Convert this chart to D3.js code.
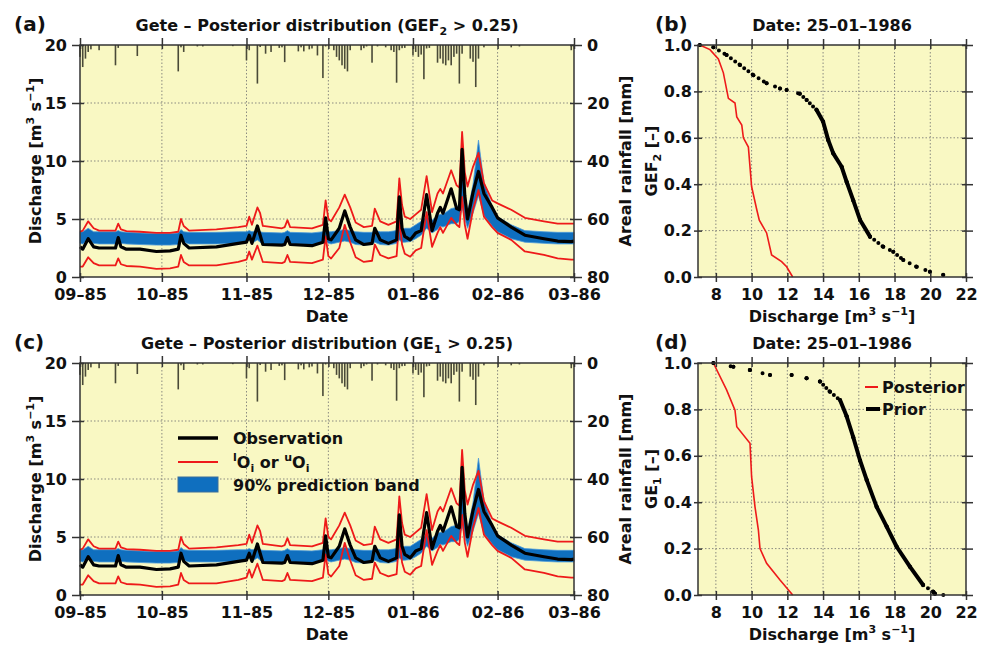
<!DOCTYPE html>
<html>
<head>
<meta charset="utf-8">
<script src="https://cdn.jsdelivr.net/npm/d3@7"></script>
<style>
body { margin: 0; background: #fff; }
text { font-family: "DejaVu Sans", sans-serif; font-weight: bold; fill: #111; }
</style>
</head>
<body>
<svg id="chart" width="985" height="647"></svg>
<script>
//////////////////////////////////////////////
// Data //////////////////////////////////////
//////////////////////////////////////////////
// discharge series, read at break points (m3/s)
var obsDates = ["1985-09-01","1985-09-02","1985-09-04","1985-09-06","1985-09-08","1985-09-14","1985-09-15","1985-09-16",
  "1985-09-18","1985-09-23","1985-09-29","1985-10-04","1985-10-07","1985-10-08","1985-10-09","1985-10-11",
  "1985-10-21","1985-10-29","1985-11-01","1985-11-02","1985-11-03","1985-11-05","1985-11-06","1985-11-07",
  "1985-11-14","1985-11-15","1985-11-16","1985-11-17","1985-11-25","1985-11-29","1985-11-30","1985-12-01",
  "1985-12-02","1985-12-05","1985-12-07","1985-12-09","1985-12-11","1985-12-14","1985-12-17","1985-12-18",
  "1985-12-20","1985-12-23","1985-12-26","1985-12-27","1985-12-28","1985-12-29","1985-12-31","1986-01-02",
  "1986-01-04","1986-01-06","1986-01-08","1986-01-10","1986-01-11","1986-01-12","1986-01-15","1986-01-17",
  "1986-01-18","1986-01-19","1986-01-20","1986-01-21","1986-01-23","1986-01-25","1986-01-27","1986-01-30",
  "1986-02-01","1986-02-06","1986-02-11","1986-02-18","1986-02-23","1986-02-28","1986-03-01"];
var observation = [2.6,2.4,3.3,2.6,2.5,2.5,3.4,2.6, 2.4,2.4,2.2,2.25,2.4,3.6,2.9,2.5,
  2.6,2.9,3.0,3.6,2.9,4.4,3.6,2.8, 2.75,2.8,3.4,2.8,2.7,3.0,5.1,3.3,
  3.2,4.2,5.7,4.3,3.2,2.8,2.9,4.2, 3.2,2.9,3.2,6.9,4.2,3.5,3.2,3.8,
  4.0,7.1,4.0,5.5,6.0,5.5,7.6,5.9, 5.8,11.0,7.0,5.0,7.3,9.1,7.2,6.0,
  5.1,4.3,3.6,3.3,3.1,3.05,3.1];
var bandLow = [2.9,2.85,3.2,2.9,2.85,2.85,3.1,2.9, 2.85,2.8,2.75,2.75,2.8,3.3,3.0,2.85,
  2.85,2.9,3.0,3.2,2.9,3.2,3.0,2.8, 2.8,2.85,3.1,2.85,2.8,2.9,3.1,2.9,
  2.85,3.0,3.1,3.0,2.8,2.75,2.8,3.0, 2.8,2.75,2.9,3.2,3.0,3.0,3.05,3.3,
  3.6,4.2,3.8,4.1,4.4,4.3,4.6,4.6, 4.8,6.0,5.0,4.2,5.5,7.0,5.3,4.4,
  3.9,3.3,3.0,2.9,2.85,2.85,2.85];
var bandHigh = [3.9,3.9,4.2,3.9,3.9,3.9,4.0,3.9, 3.85,3.8,3.75,3.75,3.8,4.1,3.9,3.85,
  3.85,3.9,3.9,4.0,3.9,4.0,3.9,3.85, 3.8,3.85,4.0,3.85,3.8,3.9,4.0,3.9,
  3.9,4.0,4.1,4.0,3.9,3.85,3.85,4.0, 3.9,3.9,4.0,4.3,4.1,4.2,4.2,4.5,
  4.8,5.2,4.9,5.3,5.4,5.4,5.9,6.0, 6.3,10.8,7.0,5.6,8.0,11.8,8.2,6.1,
  5.2,4.5,4.0,3.9,3.85,3.85,3.85];
var lowerO = [0.9,0.9,1.7,1.2,1.0,1.0,1.6,1.1, 0.95,0.9,0.7,0.75,0.9,1.9,1.3,1.0,
  1.0,1.3,1.5,2.2,1.5,2.7,2.0,1.3, 1.2,1.3,1.9,1.3,1.2,1.5,3.5,1.8,
  1.6,2.5,4.5,3.0,1.7,1.3,1.4,2.8, 1.9,1.6,1.8,5.0,2.8,2.0,1.75,2.3,
  2.5,5.6,2.6,3.8,4.3,3.8,5.1,4.5, 4.3,6.9,4.5,3.3,5.8,7.5,5.2,4.3,
  3.8,3.2,2.2,1.9,1.6,1.5,1.5];
var upperO = [3.9,4.0,4.8,4.2,4.0,4.0,4.6,4.1, 3.95,3.9,3.8,3.8,3.9,5.0,4.4,4.0,
  4.1,4.3,4.4,5.2,4.5,6.0,5.5,4.4, 4.2,4.3,4.9,4.3,4.2,4.5,6.6,5.0,
  4.8,6.0,7.1,6.0,4.7,4.3,4.4,5.9, 4.8,4.5,4.8,8.5,6.2,5.2,5.0,5.4,
  5.8,8.7,5.6,7.2,7.6,7.2,9.2,7.9, 7.7,12.5,9.0,7.8,9.5,10.7,8.1,6.6,
  6.35,5.8,5.1,4.8,4.6,4.6,4.6];

// daily areal rainfall (mm), only days with rain
var rainDates = ["1985-09-01","1985-09-02","1985-09-03","1985-09-04","1985-09-05","1985-09-08","1985-09-14","1985-09-15",
  "1985-09-22","1985-10-07","1985-10-08","1985-10-09","1985-10-14","1985-10-16","1985-10-27","1985-11-01",
  "1985-11-02","1985-11-05","1985-11-06","1985-11-08","1985-11-10","1985-11-13","1985-11-14","1985-11-15",
  "1985-11-20","1985-11-21","1985-11-22","1985-11-24","1985-11-25","1985-11-27","1985-11-29","1985-11-30",
  "1985-12-03","1985-12-04","1985-12-05","1985-12-06","1985-12-07","1985-12-08","1985-12-09","1985-12-13",
  "1985-12-14","1985-12-15","1985-12-17","1985-12-19","1985-12-22","1985-12-24","1985-12-25","1985-12-26",
  "1985-12-27","1985-12-28","1985-12-29","1986-01-01","1986-01-02","1986-01-03","1986-01-04","1986-01-05",
  "1986-01-06","1986-01-07","1986-01-10","1986-01-11","1986-01-12","1986-01-13","1986-01-14","1986-01-15",
  "1986-01-16","1986-01-17","1986-01-18","1986-01-19","1986-01-22","1986-01-23","1986-01-24","1986-01-25",
  "1986-01-27","1986-02-06","1986-02-09","1986-02-28"];
var rainMm = [4.1,7.6,4.7,2.4,1.5,1.8,7.0,1.0,
  3.8,9.1,0.8,2.4,0.5,0.5,0.4,5.3,
  1.8,13.3,0.7,3.0,2.4,1.0,0.8,5.9,
  2.2,0.8,2.2,1.5,1.2,3.6,11.4,0.5,
  1.8,4.1,5.3,7.0,8.2,9.1,1.8,1.8,
  1.1,0.5,6.1,0.5,0.8,1.8,2.4,13.0,
  1.8,1.1,1.0,3.6,2.4,4.1,3.3,11.8,
  1.2,1.0,6.1,4.7,6.4,7.0,5.3,7.0,
  4.1,3.0,13.3,3.0,4.7,5.8,14.5,4.7,
  0.8,0.8,0.5,1.8];

// distributions on 25-01-1986 (discharge, GEF2)
var postB_q = [7.1,7.67,8.14,8.42,8.7,9.07,9.17,9.45,9.54,9.82,10.0,10.29,10.43,10.84,11.12,11.68,11.96,12.3];
var postB_p = [1.0,0.98,0.94,0.88,0.77,0.75,0.69,0.655,0.6,0.56,0.39,0.29,0.245,0.19,0.095,0.066,0.044,0.0];
var priorB_q = [7.1,7.86,8.6,9.35,10.1,10.84,11.59,11.96,12.7,13.08,13.64,14.0,14.29,14.57,15.04,15.32,15.69,16.07,16.63,17.37,17.93,18.49,19.24,19.98,20.73];
var priorB_p = [1.0,0.99,0.957,0.914,0.87,0.835,0.813,0.806,0.79,0.763,0.72,0.67,0.59,0.533,0.475,0.41,0.33,0.246,0.174,0.13,0.109,0.073,0.044,0.023,0.009];

// distributions on 25-01-1986 (discharge, GE1)
var postD_q = [7.86,8.6,9.07,9.17,9.91,10.0,10.19,10.38,10.47,10.84,11.59,12.3];
var postD_p = [1.0,0.884,0.797,0.725,0.654,0.51,0.38,0.28,0.2,0.137,0.065,0.0];
var priorD_q = [7.86,8.98,9.91,11.03,12.24,13.08,13.83,14.39,14.95,15.32,15.69,16.07,16.44,17.0,17.56,18.12,18.86,19.6,20.17,20.26,20.73];
var priorD_p = [1.0,0.984,0.97,0.948,0.948,0.934,0.92,0.876,0.84,0.77,0.68,0.58,0.496,0.38,0.295,0.208,0.122,0.043,0.014,0.005,0.0];

var dischargeTicks = [0, 5, 10, 15, 20];
var rainTicks = [0, 20, 40, 60, 80];
var qTicks = [8, 10, 12, 14, 16, 18, 20, 22];
var pTicks = [0, 0.2, 0.4, 0.6, 0.8, 1.0];

//////////////////////////////////////////////
// Chart Config /////////////////////////////
//////////////////////////////////////////////
var svg = d3.select("#chart");
var parseDate = d3.timeParse("%Y-%m-%d");
var bg = "#f9f8c3";
var red = "#ee1a1a";
var blue = "#0f6fbf";
var frameColor = "#333";

var series = obsDates.map(function(s, i) {
    return {date: parseDate(s), obs: observation[i], lo: bandLow[i], hi: bandHigh[i], rlo: lowerO[i], rhi: upperO[i]};
});
var rain = rainDates.map(function(s, i) { return {date: parseDate(s), mm: rainMm[i]}; });

// text with super/subscripts: parts = [[string, "" | "sup" | "sub"]]
function rich(sel, parts) {
    var shift = 0;
    parts.forEach(function(p) {
        var target = p[1] === "sup" ? -7 : (p[1] === "sub" ? 4 : 0);
        var t = sel.append("tspan").attr("dy", target - shift).text(p[0]);
        if (p[1]) t.attr("font-size", 11);
        shift = target;
    });
    return sel;
}

var dischargeLabel = [["Discharge [m", ""], ["3", "sup"], [" s", ""], ["\u22121", "sup"], ["]", ""]];

function styleAxis(a, inner, dir) {
    a.attr("font-size", 16).attr("font-family", null);
    a.select(".domain").remove();
    a.selectAll(".tick line").attr("stroke", frameColor).attr("stroke-width", 1.5)
        .attr(dir, inner);
}

function grid(g, xs, ys, x0, x1, y0, y1) {
    xs.forEach(function(v) {
        g.append("line").attr("x1", v).attr("x2", v).attr("y1", y0).attr("y2", y1)
            .attr("stroke", "#8a8a80").attr("stroke-width", 1).attr("stroke-dasharray", "1.5,2");
    });
    ys.forEach(function(v) {
        g.append("line").attr("x1", x0).attr("x2", x1).attr("y1", v).attr("y2", v)
            .attr("stroke", "#8a8a80").attr("stroke-width", 1).attr("stroke-dasharray", "1.5,2");
    });
}

//////////////////////////////////////////////
// Time series panels ////////////////////////
//////////////////////////////////////////////
function seriesPanel(top, letter, crit, critSub, legend) {
    var left = 80, right = 574, bottom = top + 232;
    var x = d3.scaleTime().domain([parseDate("1985-09-01"), parseDate("1986-03-01")]).range([left, right]);
    var y = d3.scaleLinear().domain([0, 20]).range([bottom, top]);
    var yr = d3.scaleLinear().domain([0, 80]).range([top, bottom]);
    var months = x.ticks(d3.timeMonth.every(1));
    var g = svg.append("g");

    g.append("rect").attr("x", left).attr("y", top).attr("width", right - left).attr("height", bottom - top).attr("fill", bg);
    grid(g, months.slice(1, -1).map(x), [5, 10, 15].map(y), left, right, top, bottom);

    var band = d3.area().x(function(d) { return x(d.date); })
        .y0(function(d) { return y(d.lo); }).y1(function(d) { return y(d.hi); });
    g.append("path").datum(series).attr("d", band)
        .attr("fill", blue).attr("stroke", "#4e9bd8").attr("stroke-width", 0.8);

    ["rlo", "rhi"].forEach(function(k) {
        g.append("path").datum(series)
            .attr("d", d3.line().x(function(d) { return x(d.date); }).y(function(d) { return y(d[k]); }))
            .attr("fill", "none").attr("stroke", red).attr("stroke-width", 1.8).attr("stroke-linejoin", "round");
    });
    g.append("path").datum(series)
        .attr("d", d3.line().x(function(d) { return x(d.date); }).y(function(d) { return y(d.obs); }))
        .attr("fill", "none").attr("stroke", "#000").attr("stroke-width", 3.2).attr("stroke-linejoin", "round");

    g.selectAll(".rain").data(rain).enter().append("rect")
        .attr("x", function(d) { return x(d.date) - 0.8; })
        .attr("y", top)
        .attr("width", 1.6)
        .attr("height", function(d) { return yr(d.mm) - top; })
        .attr("fill", "#4a4a38");

    g.append("rect").attr("x", left).attr("y", top).attr("width", right - left).attr("height", bottom - top)
        .attr("fill", "none").attr("stroke", frameColor).attr("stroke-width", 1.5);

    var fmt = d3.timeFormat("%m\u2013%y");
    styleAxis(g.append("g").attr("transform", "translate(0," + bottom + ")")
        .call(d3.axisBottom(x).tickValues(months).tickFormat(fmt).tickSize(5).tickPadding(7)), -4, "y1");
    styleAxis(g.append("g").attr("transform", "translate(0," + top + ")")
        .call(d3.axisTop(x).tickValues(months).tickFormat("").tickSize(7)), 4, "y1");
    styleAxis(g.append("g").attr("transform", "translate(" + left + ",0)")
        .call(d3.axisLeft(y).tickValues(dischargeTicks).tickSize(8).tickPadding(5)), 4, "x1");
    styleAxis(g.append("g").attr("transform", "translate(" + right + ",0)")
        .call(d3.axisRight(yr).tickValues(rainTicks).tickSize(8).tickPadding(5)), -4, "x1");

    g.append("text").attr("x", 14).attr("y", top - 14).attr("font-size", 20).text(letter);
    rich(g.append("text").attr("x", (left + right) / 2).attr("y", top - 14).attr("font-size", 16).attr("text-anchor", "middle"),
        [["Gete \u2013 Posterior distribution (" + crit, ""], [critSub, "sub"], [" > 0.25)", ""]]);
    g.append("text").attr("x", (left + right) / 2).attr("y", bottom + 45).attr("font-size", 16).attr("text-anchor", "middle").text("Date");
    rich(g.append("text").attr("transform", "translate(41," + (top + bottom) / 2 + ") rotate(-90)")
        .attr("font-size", 16).attr("text-anchor", "middle"), dischargeLabel);
    g.append("text").attr("transform", "translate(631," + (top + bottom) / 2 + ") rotate(-90)")
        .attr("font-size", 16).attr("text-anchor", "middle").text("Areal rainfall [mm]");

    if (legend) {
        var lg = g.append("g").attr("font-size", 16);
        lg.append("line").attr("x1", 178).attr("x2", 218).attr("y1", top + 75).attr("y2", top + 75)
            .attr("stroke", "#000").attr("stroke-width", 3.5);
        lg.append("text").attr("x", 233).attr("y", top + 81).attr("font-size", 16).text("Observation");
        lg.append("line").attr("x1", 178).attr("x2", 218).attr("y1", top + 99).attr("y2", top + 99)
            .attr("stroke", red).attr("stroke-width", 2);
        rich(lg.append("text").attr("x", 233).attr("y", top + 105).attr("font-size", 16),
            [["l", "sup"], ["O", ""], ["i", "sub"], [" or ", ""], ["u", "sup"], ["O", ""], ["i", "sub"]]);
        lg.append("rect").attr("x", 178).attr("y", top + 114).attr("width", 40).attr("height", 15)
            .attr("fill", blue).attr("stroke", "#3d6e9a").attr("stroke-width", 1);
        lg.append("text").attr("x", 233).attr("y", top + 128).attr("font-size", 16).text("90% prediction band");
    }
}

//////////////////////////////////////////////
// Distribution panels ///////////////////////
//////////////////////////////////////////////
function drawPrior(g, x, y, qs, ps) {
    var pts = qs.map(function(q, i) { return [x(q), y(ps[i])]; });
    for (var i = 1; i < pts.length; i++) {
        var a = pts[i - 1], b = pts[i];
        var dy = Math.abs(b[1] - a[1]);
        var len = Math.hypot(b[0] - a[0], b[1] - a[1]);
        // members sit at equal steps of the cumulative axis
        var step = dy > 0 ? len * 3.2 / dy : len + 100;
        var seg = g.append("line").attr("x1", a[0]).attr("y1", a[1]).attr("x2", b[0]).attr("y2", b[1])
            .attr("stroke", "#000").attr("stroke-width", 4).attr("stroke-linecap", "round");
        if (step > 4.2) seg.attr("stroke-dasharray", "0," + step.toFixed(2));
    }
    g.selectAll(".pt").data(pts).enter().append("circle")
        .attr("cx", function(d) { return d[0]; }).attr("cy", function(d) { return d[1]; })
        .attr("r", 2).attr("fill", "#000");
}

function cdfPanel(top, letter, yLabelParts, postQ, postP, priorQ, priorP, legend) {
    var left = 698, right = 966, bottom = top + 232;
    var x = d3.scaleLinear().domain([7, 22]).range([left, right]);
    var y = d3.scaleLinear().domain([0, 1]).range([bottom, top]);
    var g = svg.append("g");

    g.append("rect").attr("x", left).attr("y", top).attr("width", right - left).attr("height", bottom - top).attr("fill", bg);
    grid(g, qTicks.slice(0, -1).map(x), [0.2, 0.4, 0.6, 0.8].map(y), left, right, top, bottom);

    g.append("path").datum(postQ.map(function(q, i) { return [q, postP[i]]; }))
        .attr("d", d3.line().x(function(d) { return x(d[0]); }).y(function(d) { return y(d[1]); }))
        .attr("fill", "none").attr("stroke", red).attr("stroke-width", 1.6);
    drawPrior(g, x, y, priorQ, priorP);

    g.append("rect").attr("x", left).attr("y", top).attr("width", right - left).attr("height", bottom - top)
        .attr("fill", "none").attr("stroke", frameColor).attr("stroke-width", 1.5);

    styleAxis(g.append("g").attr("transform", "translate(0," + bottom + ")")
        .call(d3.axisBottom(x).tickValues(qTicks).tickSize(5).tickPadding(7)), -4, "y1");
    styleAxis(g.append("g").attr("transform", "translate(0," + top + ")")
        .call(d3.axisTop(x).tickValues(qTicks).tickFormat("").tickSize(6)), 4, "y1");
    styleAxis(g.append("g").attr("transform", "translate(" + left + ",0)")
        .call(d3.axisLeft(y).tickValues(pTicks).tickFormat(d3.format(".1f")).tickSize(4).tickPadding(2)), 4, "x1");
    styleAxis(g.append("g").attr("transform", "translate(" + right + ",0)")
        .call(d3.axisRight(y).tickValues(pTicks).tickFormat("").tickSize(7)), -4, "x1");

    g.append("text").attr("x", 655).attr("y", top - 14).attr("font-size", 20).text(letter);
    g.append("text").attr("x", (left + right) / 2).attr("y", top - 14).attr("font-size", 16)
        .attr("text-anchor", "middle").text("Date: 25\u201301\u20131986");
    rich(g.append("text").attr("x", (left + right) / 2).attr("y", bottom + 45).attr("font-size", 16)
        .attr("text-anchor", "middle"), dischargeLabel);
    rich(g.append("text").attr("transform", "translate(657," + (top + bottom) / 2 + ") rotate(-90)")
        .attr("font-size", 16).attr("text-anchor", "middle"), yLabelParts);

    if (legend) {
        g.append("line").attr("x1", 865).attr("x2", 878).attr("y1", top + 24).attr("y2", top + 24)
            .attr("stroke", red).attr("stroke-width", 2);
        g.append("text").attr("x", 882).attr("y", top + 30).attr("font-size", 16).text("Posterior");
        g.append("line").attr("x1", 866).attr("x2", 880).attr("y1", top + 46).attr("y2", top + 46)
            .attr("stroke", "#000").attr("stroke-width", 4);
        g.append("text").attr("x", 882).attr("y", top + 52).attr("font-size", 16).text("Prior");
    }
}

seriesPanel(45, "(a)", "GEF", "2", false);
seriesPanel(363, "(c)", "GE", "1", true);
cdfPanel(45, "(b)", [["GEF", ""], ["2", "sub"], [" [\u2013]", ""]], postB_q, postB_p, priorB_q, priorB_p, false);
cdfPanel(363, "(d)", [["GE", ""], ["1", "sub"], [" [\u2013]", ""]], postD_q, postD_p, priorD_q, priorD_p, true);
</script>
</body>
</html>
